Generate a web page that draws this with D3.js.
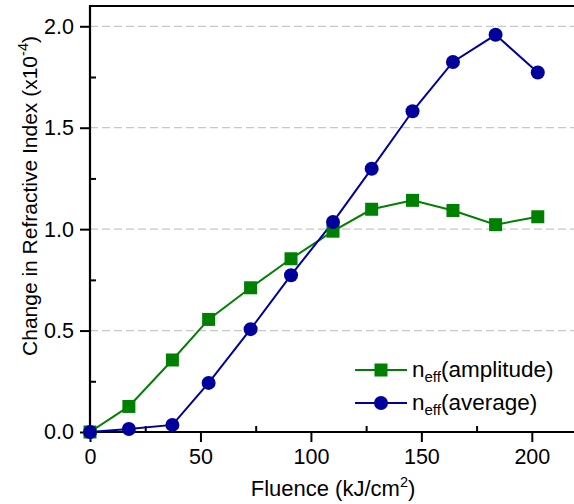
<html>
<head>
<script src="https://d3js.org/d3.v7.min.js"></script>
<style>
  body { margin: 0; background: #fff; }
  text { font-family: "Liberation Sans", Arial, sans-serif; }
</style>
</head>
<body>
<div id="chart"></div>
<script>
// data
var fluence   = [0, 17.6, 37.3, 53.7, 72.7, 91, 110, 127.5, 146, 164.3, 183.6, 202.7];
var amplitude = [0, 0.126, 0.355, 0.555, 0.711, 0.854, 0.99, 1.098, 1.142, 1.092, 1.022, 1.061];
var average   = [0, 0.015, 0.035, 0.242, 0.507, 0.773, 1.035, 1.298, 1.581, 1.824, 1.958, 1.772];
var xTicks = [0, 50, 100, 150, 200];
var xMinor = [25, 75, 125, 175];
var yTicks = [0, 0.5, 1.0, 1.5, 2.0];
var yMinor = [0.25, 0.75, 1.25, 1.75];
var seriesNames = ["amplitude", "average"];

var W = 574, H = 504;
var mLeft = 90, mTop = 6, width = 486, height = 426;
var fs = "21.5px", subFs = "14.5px";

var xs = d3.scaleLinear().domain([0, 220]).range([0, width]);
var ys = d3.scaleLinear().domain([0, 2.1]).range([height, 0]);

var svg = d3.select("#chart").append("svg")
    .attr("width", W).attr("height", H);
var g = svg.append("g").attr("transform", "translate(" + mLeft + "," + mTop + ")");

// dashed grid
g.selectAll(".grid").data(yTicks.filter(function(d){ return d > 0; })).enter()
    .append("line")
    .attr("x1", 0).attr("x2", width)
    .attr("y1", function(d){ return ys(d); }).attr("y2", function(d){ return ys(d); })
    .attr("stroke", "#c8c8c8").attr("stroke-width", 1.3)
    .attr("stroke-dasharray", "8,4");

// axes
var xAxis = g.append("g").attr("transform", "translate(0," + height + ")")
    .call(d3.axisBottom(xs).tickValues(xTicks).tickFormat(d3.format("d")).tickSize(10).tickPadding(7));
var xAxisMinor = g.append("g").attr("transform", "translate(0," + height + ")")
    .call(d3.axisBottom(xs).tickValues(xMinor).tickFormat("").tickSize(-6));
var yAxis = g.append("g")
    .call(d3.axisLeft(ys).tickValues(yTicks).tickFormat(d3.format(".1f")).tickSize(10).tickPadding(6));
var yAxisMinor = g.append("g")
    .call(d3.axisLeft(ys).tickValues(yMinor).tickFormat("").tickSize(-6));

[xAxis, xAxisMinor, yAxis, yAxisMinor].forEach(function(a){
    a.select(".domain").remove();
    a.selectAll("line").attr("stroke", "#000").attr("stroke-width", 2);
    a.selectAll("text").attr("fill", "#000").style("font-size", fs)
        .style("font-family", "Liberation Sans, Arial, sans-serif");
});

// frame: left, bottom and top
g.append("path")
    .attr("d", "M" + (width + 2) + ",0H0V" + height + "H" + (width + 2))
    .attr("fill", "none").attr("stroke", "#000").attr("stroke-width", 2.2);

// series
var green = "#008000", blue = "#00009c";
var line = d3.line().x(function(d){ return xs(d[0]); }).y(function(d){ return ys(d[1]); });
var ampPts = fluence.map(function(f, i){ return [f, amplitude[i]]; });
var avgPts = fluence.map(function(f, i){ return [f, average[i]]; });

g.append("path").datum(ampPts).attr("d", line)
    .attr("fill", "none").attr("stroke", green).attr("stroke-width", 2);
g.append("path").datum(avgPts).attr("d", line)
    .attr("fill", "none").attr("stroke", blue).attr("stroke-width", 2);

var sq = 13;
g.selectAll(".sq").data(ampPts).enter().append("rect")
    .attr("x", function(d){ return xs(d[0]) - sq / 2; })
    .attr("y", function(d){ return ys(d[1]) - sq / 2; })
    .attr("width", sq).attr("height", sq).attr("fill", green);
g.selectAll(".dot").data(avgPts).enter().append("circle")
    .attr("cx", function(d){ return xs(d[0]); })
    .attr("cy", function(d){ return ys(d[1]); })
    .attr("r", 7).attr("fill", blue);

// legend
var legend = svg.append("g");
var rows = [{c: green, y: 370, shape: "sq"}, {c: blue, y: 403, shape: "dot"}];
rows.forEach(function(r, i){
    legend.append("line").attr("x1", 355).attr("x2", 407)
        .attr("y1", r.y).attr("y2", r.y).attr("stroke", r.c).attr("stroke-width", 2);
    if (r.shape == "sq") {
        legend.append("rect").attr("x", 381 - sq / 2).attr("y", r.y - sq / 2)
            .attr("width", sq).attr("height", sq).attr("fill", r.c);
    } else {
        legend.append("circle").attr("cx", 381).attr("cy", r.y).attr("r", 7).attr("fill", r.c);
    }
    var t = legend.append("text").attr("x", 412).attr("y", r.y + 7)
        .style("font-size", "22.5px").attr("fill", "#000");
    t.append("tspan").text("n");
    t.append("tspan").attr("dy", 5).style("font-size", "15px").text("eff");
    t.append("tspan").attr("dy", -5).text("(" + seriesNames[i] + ")");
});

// axis titles
var xt = svg.append("text").attr("x", 333).attr("y", 496)
    .attr("text-anchor", "middle").style("font-size", "22px").attr("fill", "#000");
xt.append("tspan").text("Fluence (kJ/cm");
xt.append("tspan").attr("dy", -9).style("font-size", subFs).text("2");
xt.append("tspan").attr("dy", 9).text(")");

var yt = svg.append("text")
    .attr("transform", "translate(37," + 196 + ") rotate(-90)")
    .attr("text-anchor", "middle").style("font-size", "21px").attr("fill", "#000");
yt.append("tspan").text("Change in Refractive Index (x10");
yt.append("tspan").attr("dy", -9).style("font-size", subFs).text("-4");
yt.append("tspan").attr("dy", 9).text(")");
</script>
</body>
</html>
